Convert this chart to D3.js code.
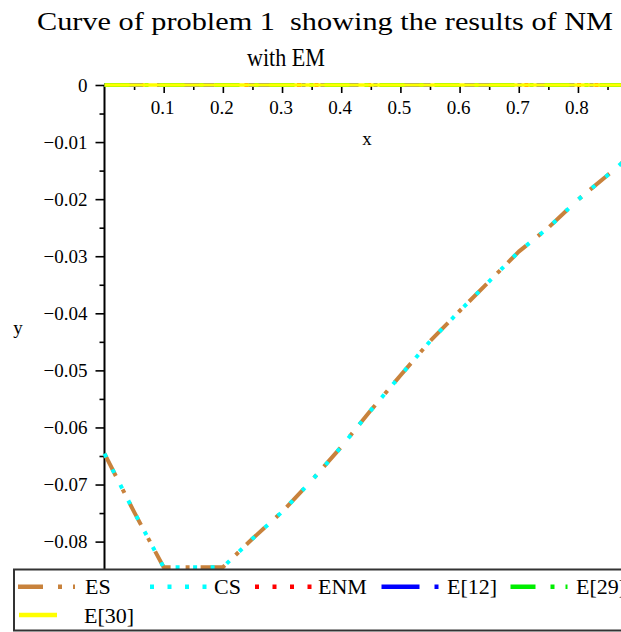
<!DOCTYPE html>
<html>
<head>
<meta charset="utf-8">
<script src="https://cdn.jsdelivr.net/npm/d3@7"></script>
<style>
html, body { margin: 0; padding: 0; overflow: hidden; background: #fff; }
svg { display: block; }
text { font-family: "Liberation Serif", "Times New Roman", serif; fill: #000; }
</style>
</head>
<body>
<script>
// ---- data ----
const xValues   = [0, 0.05, 0.1, 0.15, 0.2, 0.25, 0.3, 0.35, 0.4, 0.45, 0.5, 0.55, 0.6, 0.65, 0.7, 0.75, 0.8, 0.85, 0.9];
const esValues  = [-0.0646, -0.0748, -0.0845, -0.0845, -0.0845, -0.0795, -0.0748, -0.0693, -0.0634, -0.0570, -0.0509, -0.0449, -0.0396, -0.0344, -0.0292, -0.0250, -0.0201, -0.0158, -0.0114];
const csValues  = [-0.0646, -0.0748, -0.0845, -0.0845, -0.0845, -0.0795, -0.0748, -0.0693, -0.0634, -0.0570, -0.0509, -0.0449, -0.0396, -0.0344, -0.0292, -0.0250, -0.0201, -0.0158, -0.0114];
const enmValues = [0, 0, 0, 0, 0, 0, 0, 0, 0, 0, 0, 0, 0, 0, 0, 0, 0, 0, 0];
const e12Values = [0, 0, 0, 0, 0, 0, 0, 0, 0, 0, 0, 0, 0, 0, 0, 0, 0, 0, 0];
const e29Values = [0, 0, 0, 0, 0, 0, 0, 0, 0, 0, 0, 0, 0, 0, 0, 0, 0, 0, 0];
const e30Values = [0, 0, 0, 0, 0, 0, 0, 0, 0, 0, 0, 0, 0, 0, 0, 0, 0, 0, 0];
const seriesNames = ["ES", "CS", "ENM", "E[12]", "E[29]", "E[30]"];
const xTickValues = [0.1, 0.2, 0.3, 0.4, 0.5, 0.6, 0.7, 0.8];
const xMinorTicks = [0.05, 0.15, 0.25, 0.35, 0.45, 0.55, 0.65, 0.75, 0.85, 0.95];
const yTickValues = [0, -0.01, -0.02, -0.03, -0.04, -0.05, -0.06, -0.07, -0.08];
const yMinorTicks = [-0.005, -0.015, -0.025, -0.035, -0.045, -0.055, -0.065, -0.075];
const titleLines = ["Curve of problem 1  showing the results of NM", "with EM"];

// ---- styles ----
const styles = {
  "ES":    { color: "#c8823c", dash: "25,15,4,11", width: 4 },
  "CS":    { color: "#00ffff", dash: "4,13.5",     width: 4 },
  "ENM":   { color: "#ff0000", dash: "4,13.5",     width: 4 },
  "E[12]": { color: "#0000ff", dash: "38,15,4,15", width: 4 },
  "E[29]": { color: "#00ee00", dash: "25,15,4,11", width: 4 },
  "E[30]": { color: "#ffff00", dash: null,         width: 3.5 }
};
const valuesByName = {
  "ES": esValues, "CS": csValues, "ENM": enmValues,
  "E[12]": e12Values, "E[29]": e29Values, "E[30]": e30Values
};

const W = 621, H = 632;
const svg = d3.select("body").append("svg").attr("width", W).attr("height", H);

const x = d3.scaleLinear().domain([0, 1]).range([104.5, 696.3]);
const y = d3.scaleLinear().domain([-0.0848, 0]).range([569, 85]);

// ---- title ----
svg.append("text").attr("x", 37).attr("y", 29.5)
  .attr("font-size", 26).attr("textLength", 576).attr("lengthAdjust", "spacingAndGlyphs")
  .style("white-space", "pre")
  .text(titleLines[0]);
svg.append("text").attr("x", 247).attr("y", 65.5)
  .attr("font-size", 26).attr("textLength", 78).attr("lengthAdjust", "spacingAndGlyphs")
  .text(titleLines[1]);

// ---- axes ----
const fmtY = d => d === 0 ? "0" : "\u2212" + Math.abs(d).toFixed(2);

const gy = svg.append("g").attr("transform", "translate(104.5,0)")
  .call(d3.axisLeft(y).tickValues(yTickValues).tickSize(9).tickPadding(8).tickFormat(fmtY));
const gyMinor = svg.append("g").attr("transform", "translate(104.5,0)")
  .call(d3.axisLeft(y).tickValues(yMinorTicks).tickSize(5).tickFormat(""));

const gx = svg.append("g").attr("transform", "translate(0,85)")
  .call(d3.axisBottom(x).tickValues(xTickValues).tickSize(8).tickPadding(8).tickFormat(d3.format(".1f")));
const gxMinor = svg.append("g").attr("transform", "translate(0,85)")
  .call(d3.axisBottom(x).tickValues(xMinorTicks).tickSize(5).tickFormat(""));

[gy, gyMinor, gx, gxMinor].forEach(g => {
  g.select(".domain").remove();
  g.selectAll("line").attr("stroke", "#000").attr("stroke-width", 1.6);
  g.selectAll("text").attr("font-size", 19).attr("fill", "#000")
    .style("font-family", '"Liberation Serif", "Times New Roman", serif');
});
gx.selectAll("text").attr("dx", "-1.5");

// axis lines
svg.append("line").attr("x1", x(0)).attr("x2", x(1)).attr("y1", y(0)).attr("y2", y(0))
  .attr("stroke", "#000").attr("stroke-width", 2);
svg.append("line").attr("x1", x(0)).attr("x2", x(0)).attr("y1", y(0)).attr("y2", y(-0.0848))
  .attr("stroke", "#000").attr("stroke-width", 2);

// axis labels
svg.append("text").attr("x", 367).attr("y", 138).attr("text-anchor", "middle")
  .attr("dominant-baseline", "central").attr("font-size", 19).text("x");
svg.append("text").attr("x", 18).attr("y", 327).attr("text-anchor", "middle")
  .attr("dominant-baseline", "central").attr("font-size", 19).text("y");

// ---- series ----
const line = d3.line().x((d, i) => x(xValues[i])).y(d => y(d));
seriesNames.forEach(name => {
  const st = styles[name];
  svg.append("path").datum(valuesByName[name])
    .attr("d", line)
    .attr("fill", "none")
    .attr("stroke", st.color)
    .attr("stroke-width", st.width)
    .attr("stroke-linecap", "butt")
    .attr("stroke-linejoin", "round")
    .attr("stroke-dasharray", st.dash);
});

// ---- legend ----
const legend = svg.append("g");
legend.append("rect").attr("x", 14).attr("y", 569.5).attr("width", 700).attr("height", 61)
  .attr("fill", "#fff").attr("stroke", "#333").attr("stroke-width", 2);

const legendLayout = [
  { sx: 18,    tx: 85,  row: 0, len: 57 },
  { sx: 150,   tx: 214, row: 0, len: 57 },
  { sx: 255,   tx: 318, row: 0, len: 57 },
  { sx: 381.5, tx: 447, row: 0, len: 57 },
  { sx: 510.5, tx: 576, row: 0, len: 57 },
  { sx: 19,    tx: 84,  row: 1, len: 38 }
];
const rowY = [586.7, 615];
const rowBase = [594.3, 622.8];
seriesNames.forEach((name, i) => {
  const st = styles[name], L = legendLayout[i];
  legend.append("line")
    .attr("x1", L.sx).attr("x2", L.sx + L.len)
    .attr("y1", rowY[L.row]).attr("y2", rowY[L.row])
    .attr("stroke", st.color).attr("stroke-width", 4.5)
    .attr("stroke-dasharray", st.dash);
  legend.append("text").attr("x", L.tx).attr("y", rowBase[L.row])
    .attr("font-size", 22).text(name);
});
</script>
</body>
</html>
